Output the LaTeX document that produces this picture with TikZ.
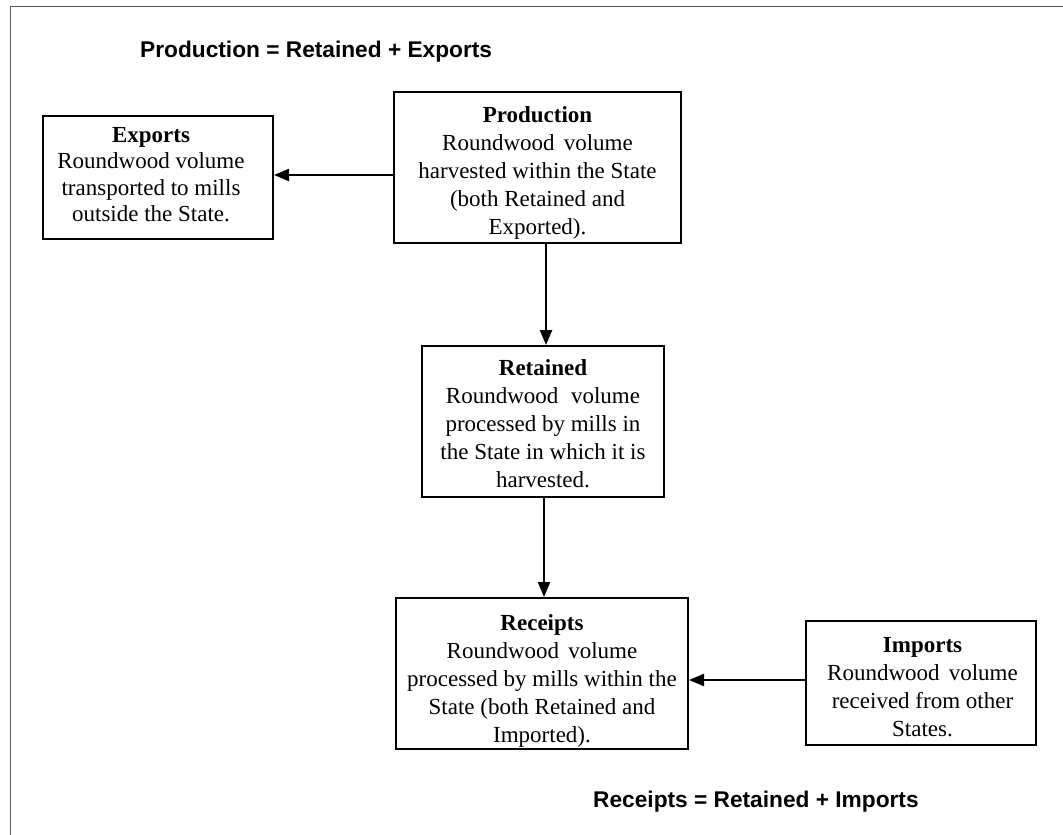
\documentclass[tikz,border=0pt]{standalone}
\usepackage{fontspec}
\setmainfont{Liberation Serif}
\newfontfamily\titlefont{Liberation Sans}
\usetikzlibrary{arrows.meta}
\begin{document}
\begin{tikzpicture}[x=1pt,y=-1pt,
  boxframe/.style={draw=black,line width=2pt,inner sep=0pt},
  boxtext/.style={align=center,inner sep=0pt,font=\fontsize{23}{28}\selectfont},
  arr/.style={line width=2.4pt,-{Triangle[length=15pt,width=12pt]}},
  eqn/.style={font=\titlefont\bfseries\fontsize{22.7}{27}\selectfont,inner sep=0pt,anchor=west},
  frame/.style={draw={rgb,255:red,90;green,90;blue,90},line width=1.8pt}]
\useasboundingbox (0,0) rectangle (1063,835);
\draw[frame] (10.5,835) -- (10.5,6.5) -- (1063,6.5);

\node[eqn] (t1) at (140,52) {Production = Retained + Exports};
\node[eqn] (t2) at (593,802) {Receipts = Retained + Imports};

% boxes
\node[boxframe,minimum width=230pt,minimum height=123pt] (exp) at (158,177.5) {};
\node[boxframe,minimum width=287pt,minimum height=151pt] (prod) at (537.5,167.5) {};
\node[boxframe,minimum width=242pt,minimum height=151pt] (ret) at (543,421.5) {};
\node[boxframe,minimum width=292pt,minimum height=151pt] (rec) at (542,673.5) {};
\node[boxframe,minimum width=230pt,minimum height=124pt] (imp) at (921,683) {};

% texts
\node[boxtext,font=\fontsize{23}{26.5}\selectfont] (expt) at ([xshift=-7pt,yshift=3pt]exp.center)
  {\textbf{Exports}\\Roundwood volume\\transported to mills\\outside the State.};
\node[boxtext] (prodt) at ([yshift=-5pt]prod.center)
  {\textbf{Production}\\Roundwood\hspace{0.15em} volume\\harvested within the State\\(both Retained and\\Exported).};
\node[boxtext] (rett) at ([yshift=-2pt]ret.center)
  {\textbf{Retained}\\Roundwood\hspace{0.3em} volume\\processed by mills in\\the State in which it is\\harvested.};
\node[boxtext] (rect) at ([yshift=-7pt]rec.center)
  {\textbf{Receipts}\\Roundwood\hspace{0.15em} volume\\processed by mills within the\\State (both Retained and\\Imported).};
\node[boxtext] (impt) at ([xshift=1.5pt,yshift=-4pt]imp.center)
  {\textbf{Imports}\\Roundwood\hspace{0.15em} volume\\received from other\\States.};

% connectors
\draw[arr] ([yshift=2.5pt]prod.west |- exp.east) -- ([yshift=2.5pt]exp.east);
\draw[arr] ([xshift=3pt]ret.north |- prod.south) -- ([xshift=3pt]ret.north);
\draw[arr] ([xshift=1pt]ret.south) -- ([xshift=1pt]ret.south |- rec.north);
\draw[arr] ([yshift=3pt]imp.west) -- ([yshift=3pt]imp.west -| rec.east);
\end{tikzpicture}
\end{document}
